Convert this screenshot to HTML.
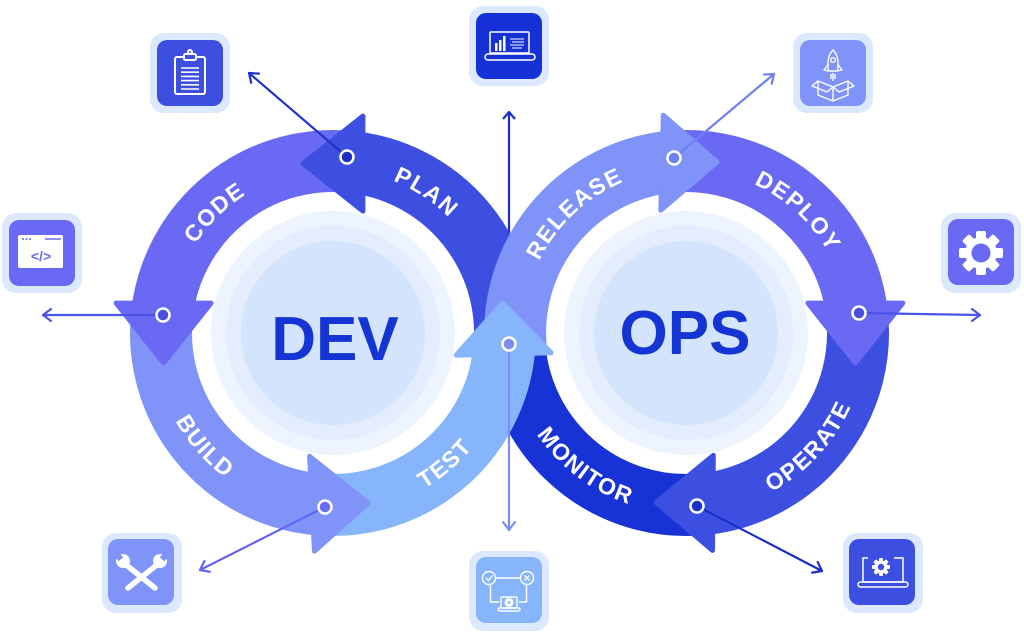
<!DOCTYPE html>
<html><head><meta charset="utf-8"><style>
html,body{margin:0;padding:0;background:#fff;}
svg{display:block;}
.lbl{font-family:"Liberation Sans",Arial,sans-serif;font-weight:bold;font-size:23px;fill:#fff;letter-spacing:1.5px;}
.big{font-family:"Liberation Sans",Arial,sans-serif;font-weight:bold;font-size:62px;fill:#1435d3;}
</style></head><body>
<svg width="1024" height="637" viewBox="0 0 1024 637" xmlns="http://www.w3.org/2000/svg">
<defs>
<path id="pCODE" d="M184.13,400.84 A163.6,163.6 0 0 1 403.43,185.34"/>
<path id="pPLAN" d="M235.69,201.49 A163.6,163.6 0 0 1 492.08,371.19"/>
<path id="pBUILD" d="M174.46,246.92 A180.4,180.4 0 0 0 399.12,500.85"/>
<path id="pTEST" d="M244.44,490.17 A180.4,180.4 0 0 0 501.87,269.53"/>
<path id="pREL" d="M535.41,396.92 A163.6,163.6 0 0 1 760.27,187.23"/>
<path id="pDEP" d="M610.71,187.75 A163.6,163.6 0 0 1 837.04,395.87"/>
<path id="pOPE" d="M616.09,499.30 A180.4,180.4 0 0 0 846.45,250.54"/>
<path id="pMON" d="M513.48,280.26 A180.4,180.4 0 0 0 784.25,484.30"/>
</defs>

<!-- center discs -->
<circle cx="333" cy="333" r="122" fill="#eef4ff"/>
<circle cx="333" cy="333" r="107" fill="#e3edfe"/>
<circle cx="333" cy="333" r="92" fill="#d4e4fd"/>
<circle cx="686" cy="333" r="122" fill="#eef4ff"/>
<circle cx="686" cy="333" r="107" fill="#e3edfe"/>
<circle cx="686" cy="333" r="92" fill="#d4e4fd"/>

<!-- top vertical line (behind bands) -->
<line x1="509" y1="300" x2="509" y2="112" stroke="#1a2fc6" stroke-width="2.2"/>
<path d="M503,119 L509,112 L515,119" fill="none" stroke="#1a2fc6" stroke-width="2.2" stroke-linejoin="round"/>

<!-- bands -->
<g fill="none" stroke-width="62">
<path d="M703.98,504.06 A172,172 0 0 1 514.66,318.01" stroke="#1733d6"/>
<path d="M350.98,161.94 A172,172 0 0 1 501.24,368.76" stroke="#3d4fe0"/>
<path d="M161.94,315.02 A172,172 0 0 1 353.96,162.28" stroke="#6969f4"/>
<path d="M324.00,504.76 A172,172 0 0 1 162.28,312.04" stroke="#7f93f8"/>
<path d="M671.01,161.66 A172,172 0 0 1 857.06,315.02" stroke="#6969f4"/>
<path d="M856.72,312.04 A172,172 0 0 1 700.99,504.34" stroke="#3d4fe0"/>
<path d="M516.8,357.1 A172,172 0 0 1 674.00,161.42" stroke="#7f93f8"/>
<path d="M504.76,342.00 A172,172 0 0 1 321.00,504.58" stroke="#86b5fb"/>
</g>

<!-- arrowheads -->
<g stroke-width="5" stroke-linejoin="round">
<polygon points="362.9,116.1 303.1,163.6 362.9,211.1" fill="#3d4fe0" stroke="#3d4fe0"/>
<polygon points="211.1,303.1 163.6,362.9 116.1,303.1" fill="#6969f4" stroke="#6969f4"/>
<polygon points="309.6,456.3 368,503 314.5,551.2" fill="#7f93f8" stroke="#7f93f8"/>
<polygon points="663.3,115.2 717,162 660.8,210.2" fill="#7f93f8" stroke="#7f93f8"/>
<polygon points="807.9,303.1 855.4,362.9 902.9,303.1" fill="#6969f4" stroke="#6969f4"/>
<polygon points="713.3,455.4 656.1,502.4 712.5,550.4" fill="#3d4fe0" stroke="#3d4fe0"/>
<polygon points="456.2,355.2 502.4,303.1 551.2,352.7" fill="#86b5fb" stroke="#86b5fb"/>
</g>

<!-- labels -->
<text class="lbl"><textPath href="#pCODE" startOffset="50%" text-anchor="middle">CODE</textPath></text>
<text class="lbl"><textPath href="#pPLAN" startOffset="50%" text-anchor="middle">PLAN</textPath></text>
<text class="lbl"><textPath href="#pBUILD" startOffset="50%" text-anchor="middle">BUILD</textPath></text>
<text class="lbl"><textPath href="#pTEST" startOffset="50%" text-anchor="middle">TEST</textPath></text>
<text class="lbl"><textPath href="#pREL" startOffset="50%" text-anchor="middle">RELEASE</textPath></text>
<text class="lbl"><textPath href="#pDEP" startOffset="50%" text-anchor="middle">DEPLOY</textPath></text>
<text class="lbl"><textPath href="#pOPE" startOffset="50%" text-anchor="middle">OPERATE</textPath></text>
<text class="lbl"><textPath href="#pMON" startOffset="50%" text-anchor="middle">MONITOR</textPath></text>

<text class="big" x="335" y="360" text-anchor="middle">DEV</text>
<text class="big" x="685" y="354" text-anchor="middle">OPS</text>

<!-- connectors -->
<g fill="none" stroke-width="2.2" stroke-linejoin="round" stroke-linecap="round">
<line x1="347" y1="157" x2="249" y2="73" stroke="#2234c8"/>
<path d="M258.98,73.65 L249,73 L251.16,82.77" stroke="#2234c8"/>
<line x1="163" y1="315" x2="43" y2="315" stroke="#4b54e5"/>
<path d="M51,309 L43,315 L51,321" stroke="#4b54e5"/>
<line x1="325" y1="507" x2="200" y2="570" stroke="#6466ee"/>
<path d="M204.44,561.04 L200,570 L209.84,571.76" stroke="#6466ee"/>
<line x1="509" y1="344" x2="509" y2="530" stroke="#7c8ef6"/>
<path d="M503,522 L509,530 L515,522" stroke="#7c8ef6"/>
<line x1="674" y1="158" x2="774" y2="74" stroke="#6f7ff4"/>
<path d="M771.73,83.74 L774,74 L764.01,74.54" stroke="#6f7ff4"/>
<line x1="859" y1="313" x2="980" y2="315" stroke="#4b54e5"/>
<path d="M972,309 L980,315 L972,321" stroke="#4b54e5"/>
<line x1="697" y1="506" x2="822" y2="571" stroke="#1a2fc6"/>
<path d="M812.13,572.62 L822,571 L817.67,561.98" stroke="#1a2fc6"/>
</g>
<g stroke="#fff" stroke-width="2.5">
<circle cx="347" cy="157" r="6.5" fill="#1f30c0"/>
<circle cx="163" cy="315" r="6.5" fill="#4b4fe0"/>
<circle cx="325" cy="507" r="6.5" fill="#6a6cf5"/>
<circle cx="509" cy="344" r="6.5" fill="#7c8ef6"/>
<circle cx="674" cy="158" r="6.5" fill="#6f7ff4"/>
<circle cx="859" cy="313" r="6.5" fill="#4b4fe0"/>
<circle cx="697" cy="506" r="6.5" fill="#1a2fc6"/>
</g>

<!-- icon boxes -->
<g fill="#dce8fe">
<rect x="150" y="33" width="80" height="80" rx="14"/>
<rect x="469" y="6" width="80" height="80" rx="14"/>
<rect x="793" y="33" width="80" height="80" rx="14"/>
<rect x="2" y="213" width="80" height="80" rx="14"/>
<rect x="941" y="213" width="80" height="80" rx="14"/>
<rect x="102" y="533" width="80" height="80" rx="14"/>
<rect x="469" y="551" width="80" height="80" rx="14"/>
<rect x="843" y="533" width="80" height="80" rx="14"/>
</g>
<rect x="157" y="40" width="66" height="66" rx="10" fill="#3d4fe0"/>
<rect x="476" y="13" width="66" height="66" rx="10" fill="#1631d6"/>
<rect x="800" y="40" width="66" height="66" rx="10" fill="#7f93f8"/>
<rect x="9" y="220" width="66" height="66" rx="10" fill="#6969f4"/>
<rect x="948" y="219" width="66" height="66" rx="10" fill="#6969f4"/>
<rect x="108" y="539" width="66" height="66" rx="10" fill="#7f93f8"/>
<rect x="476" y="557" width="66" height="66" rx="10" fill="#86b5fb"/>
<rect x="849" y="539" width="66" height="66" rx="10" fill="#3d4fe0"/>

<!-- clipboard -->
<g fill="none" stroke="#fff" stroke-width="2">
<rect x="175" y="57" width="30" height="37" rx="2"/>
<rect x="184" y="54" width="12" height="6" rx="1.5" fill="#3d4fe0"/>
<circle cx="190" cy="52" r="2"/>
<g stroke-width="1.6">
<line x1="181" y1="68" x2="199" y2="68"/><line x1="181" y1="72.2" x2="199" y2="72.2"/>
<line x1="181" y1="76.4" x2="199" y2="76.4"/><line x1="181" y1="80.6" x2="199" y2="80.6"/>
<line x1="181" y1="84.8" x2="199" y2="84.8"/><line x1="181" y1="89" x2="199" y2="89"/>
</g>
</g>

<!-- laptop chart -->
<g fill="none" stroke="#fff" stroke-width="1.5">
<rect x="490" y="32" width="39" height="21" rx="1"/>
<rect x="485" y="54" width="50" height="6" rx="3"/>
<g stroke-width="1"><line x1="510" y1="39" x2="524" y2="39"/><line x1="512" y1="42" x2="524" y2="42"/><line x1="510" y1="45" x2="524" y2="45"/><line x1="512" y1="48" x2="522" y2="48"/></g>
</g>
<g fill="#fff"><rect x="495" y="43" width="2.5" height="8"/><rect x="499" y="40" width="2.5" height="11"/><rect x="503" y="36" width="2.5" height="15"/></g>

<!-- rocket box -->
<g fill="none" stroke="#fff" stroke-width="1.4" stroke-linejoin="round">
<path d="M833,50 C838,55 839,62 837.5,71 L828.5,71 C827,62 828,55 833,50 Z"/>
<circle cx="833" cy="60" r="2.3"/>
<path d="M828.5,64 L824,70 L828.5,71 M837.5,64 L842,70 L837.5,71"/>
<path d="M831,74 L831,79 M835,74 L835,79 M833,73 L833,81"/>
<path d="M818,81 L833,87 L848,81 L848,95 L833,101 L818,95 Z M833,87 L833,101"/>
<path d="M818,81 L812,86 L827,92 L833,87 M848,81 L854,86 L839,92 L833,87"/>
</g>

<!-- code window -->
<rect x="18" y="235" width="45" height="33" rx="2" fill="#fff"/>
<g fill="#6969f4"><circle cx="23" cy="239" r="1"/><circle cx="26.5" cy="239" r="1"/><circle cx="30" cy="239" r="1"/></g>
<line x1="45" y1="239" x2="61" y2="239" stroke="#6969f4" stroke-width="1.5"/>
<text x="41" y="261" text-anchor="middle" font-family="Liberation Sans, Arial, sans-serif" font-weight="bold" font-size="14" fill="#6969f4">&lt;/&gt;</text>

<!-- gear -->
<g transform="translate(981,253)" fill="#fff">
<circle r="16"/>
<rect x="-5" y="-22" width="10" height="10" rx="2"/>
<rect x="-5" y="-22" width="10" height="10" rx="2" transform="rotate(45)"/>
<rect x="-5" y="-22" width="10" height="10" rx="2" transform="rotate(90)"/>
<rect x="-5" y="-22" width="10" height="10" rx="2" transform="rotate(135)"/>
<rect x="-5" y="-22" width="10" height="10" rx="2" transform="rotate(180)"/>
<rect x="-5" y="-22" width="10" height="10" rx="2" transform="rotate(225)"/>
<rect x="-5" y="-22" width="10" height="10" rx="2" transform="rotate(270)"/>
<rect x="-5" y="-22" width="10" height="10" rx="2" transform="rotate(315)"/>
<circle r="9.5" fill="#6969f4"/>
</g>

<!-- tools -->
<g stroke="#fff" stroke-width="5.5" stroke-linecap="round">
<line x1="125" y1="564" x2="155" y2="588"/>
<line x1="158" y1="564" x2="128" y2="588"/>
</g>
<g fill="#fff"><circle cx="123" cy="561" r="7"/><circle cx="160" cy="561" r="7"/></g>
<g fill="#7f93f8"><rect x="116" y="554" width="6" height="6" transform="rotate(-40 119 557)"/><rect x="161" y="554" width="6" height="6" transform="rotate(40 164 557)"/></g>

<!-- test flow -->
<g fill="none" stroke="#fff" stroke-width="1.4" stroke-linejoin="round">
<circle cx="489" cy="578" r="6.5"/>
<path d="M486,578 L488.5,580.5 L492.5,575.5"/>
<circle cx="527" cy="578" r="6.5"/>
<path d="M524.5,575.5 L529.5,580.5 M529.5,575.5 L524.5,580.5"/>
<line x1="495.5" y1="578" x2="520.5" y2="578"/>
<path d="M490.5,584.5 L490.5,602 L499,602 M526.5,584.5 L526.5,602 L519,602"/>
<rect x="501" y="597" width="16" height="11" rx="1"/>
<rect x="498" y="608" width="22" height="3" rx="1.5"/>
</g>
<g transform="translate(509,602.5)" fill="#fff">
<circle r="3.2"/><rect x="-1.3" y="-4.6" width="2.6" height="9.2"/><rect x="-4.6" y="-1.3" width="9.2" height="2.6"/>
<rect x="-1.3" y="-4.6" width="2.6" height="9.2" transform="rotate(45)"/><rect x="-1.3" y="-4.6" width="2.6" height="9.2" transform="rotate(-45)"/>
<circle r="1.4" fill="#86b5fb"/>
</g>

<!-- laptop gear -->
<g fill="none" stroke="#fff" stroke-width="1.5">
<path d="M868,558 L863,558 L863,582 L903,582 L903,558 L894,558"/>
<rect x="858" y="582" width="50" height="5" rx="2.5"/>
</g>
<g transform="translate(881,567)" fill="#fff">
<circle r="6.5"/>
<rect x="-2" y="-9" width="4" height="18" rx="1"/><rect x="-9" y="-2" width="18" height="4" rx="1"/>
<rect x="-2" y="-9" width="4" height="18" rx="1" transform="rotate(45)"/><rect x="-2" y="-9" width="4" height="18" rx="1" transform="rotate(-45)"/>
<circle r="3.2" fill="#3d4fe0"/>
</g>
</svg>
</body></html>
